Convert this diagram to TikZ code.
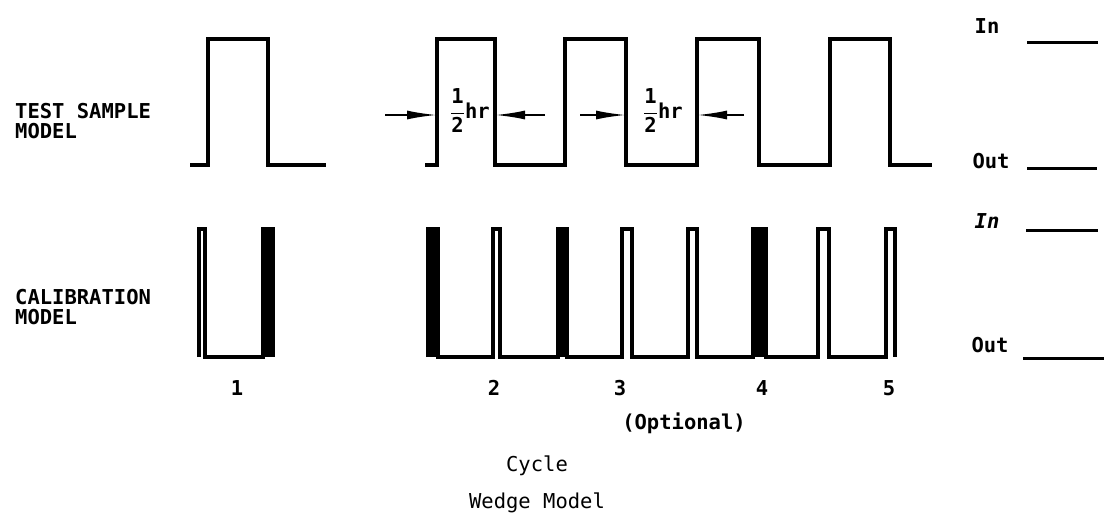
\documentclass[tikz,border=0pt]{standalone}
\usepackage{amsmath}
\usepackage{fontspec}
\usetikzlibrary{arrows.meta}
\newfontfamily\labfont{DejaVu Sans Mono}
\begin{document}
\begin{tikzpicture}[x=1pt,y=-1pt,
  wave/.style={line width=3.2pt, line join=miter, line cap=butt},
  txt/.style={font=\labfont\bfseries\fontsize{20.5}{20.5}\selectfont, inner sep=0pt},
  plaintxt/.style={font=\labfont\fontsize{20.5}{20.5}\selectfont, inner sep=0pt},
  dimarrow/.style={line width=2pt, -{Latex[length=30pt,width=9pt]}},
  levelline/.style={line width=3pt}]
\useasboundingbox (0,0) rectangle (1107,525);

% left labels
\node[txt, align=left, anchor=north west] (tsm) at (15,103) {TEST SAMPLE\\MODEL};
\node[txt, align=left, anchor=north west] (cal) at (15,289) {CALIBRATION\\MODEL};

% test sample waveform
\draw[wave] (190,165) -| (208,39) -| (268,165) -- (326,165);
\draw[wave] (425,165) -| (437,39) -| (495,165) -| (565,39) -| (626,165)
  -| (697,39) -| (759,165) -| (830,39) -| (890,165) -- (932,165);

% calibration waveform
\fill (263,229) rectangle (273,357);
\fill (428,229) rectangle (438,357);
\fill (558,229) rectangle (567,357);
\fill (753,229) rectangle (766,357);
\draw[wave] (199,357) |- (205,229) |- (263,357) |- (273,229) -- (273,357);
\draw[wave] (428,357) |- (438,229) |- (493,357) |- (500,229) |- (558,357)
  |- (567,229) |- (622,357) |- (632,229) |- (688,357) |- (697,229)
  |- (753,357) |- (766,229) |- (818,357) |- (829,229) |- (886,357)
  |- (895,229) -- (895,357);

% half-hour labels and arrows
\node[txt, anchor=base] (hr1) at (470,118) {$\genfrac{}{}{0.6pt}{0}{\hbox{1}}{\hbox{2}}$hr};
\node[txt, anchor=base] (hr2) at (663,118) {$\genfrac{}{}{0.6pt}{0}{\hbox{1}}{\hbox{2}}$hr};
\coordinate (a1s) at (385,115); \coordinate (a1e) at (437,115);
\coordinate (a2s) at (545,115); \coordinate (a2e) at (495,115);
\coordinate (a3s) at (580,115); \coordinate (a3e) at (626,115);
\coordinate (a4s) at (744,115); \coordinate (a4e) at (697,115);
\draw[dimarrow] (a1s) -- (a1e);
\draw[dimarrow] (a2s) -- (a2e);
\draw[dimarrow] (a3s) -- (a3e);
\draw[dimarrow] (a4s) -- (a4e);

% right legend
\node[txt] (in1) at (987,26) {In};
\node[txt] (out1) at (991,161) {Out};
\node[txt, font=\labfont\bfseries\itshape\fontsize{20.5}{20.5}\selectfont] (in2) at (987,221) {In};
\node[txt] (out2) at (990,345) {Out};
\draw[levelline] (1027,42) -- (1098,42);
\draw[levelline] (1027,168) -- (1097,168);
\draw[levelline] (1026,230) -- (1098,230);
\draw[levelline] (1023,358) -- (1104,358);

% cycle numbers
\node[txt] (c1) at (237,388) {1};
\node[txt] (c2) at (494,388) {2};
\node[txt] (c3) at (620,388) {3};
\node[txt] (c4) at (762,388) {4};
\node[txt] (c5) at (889,388) {5};
\node[txt] (opt) at (684,423) {(Optional)};
\node[plaintxt] (cyc) at (537,466) {Cycle};
\node[plaintxt] (wm) at (537,503) {Wedge Model};
\end{tikzpicture}
\end{document}
